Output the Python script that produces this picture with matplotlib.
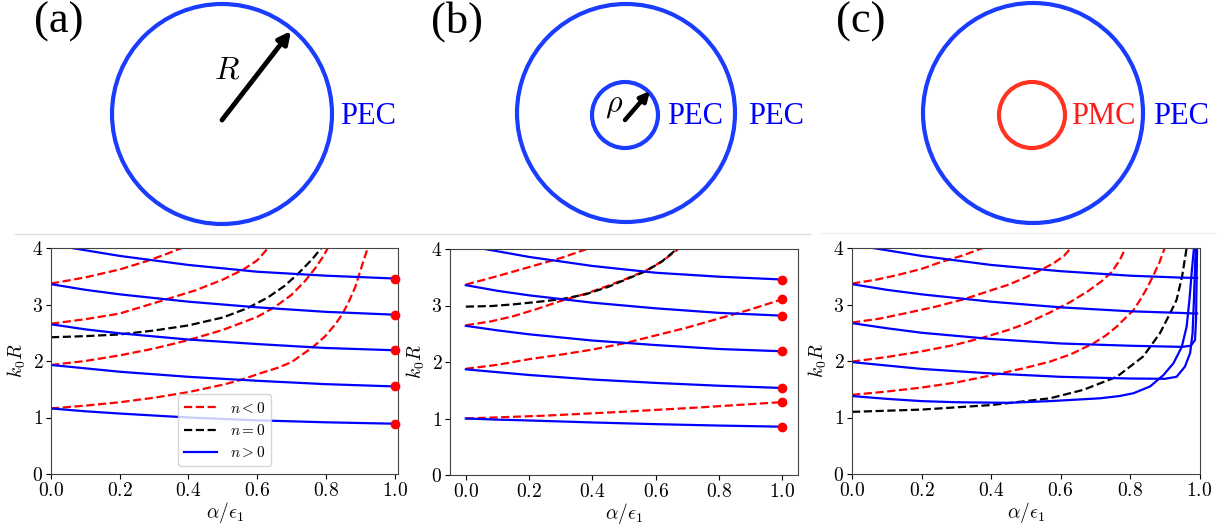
import matplotlib.pyplot as plt
from matplotlib.patches import Circle

plt.rcParams["font.family"] = "serif"
plt.rcParams["font.serif"] = ["cmr10"]
plt.rcParams["mathtext.fontset"] = "cm"
plt.rcParams["axes.formatter.use_mathtext"] = True

# ---- panel (a): single PEC cylinder ----
blue_x = [0, 0.1, 0.2, 0.4, 0.6, 0.8, 1.0]
a_blue_y = [
    [1.16, 1.11, 1.07, 1.00, 0.95, 0.915, 0.89],
    [1.93, 1.87, 1.81, 1.72, 1.65, 1.59, 1.55],
    [2.65, 2.56, 2.49, 2.38, 2.30, 2.23, 2.19],
    [3.36, 3.26, 3.18, 3.05, 2.95, 2.87, 2.82],
    [4.06, 3.96, 3.86, 3.70, 3.58, 3.51, 3.46],
]
a_red_x = [
    [0, 0.1, 0.2, 0.3, 0.4, 0.5, 0.55, 0.608, 0.66, 0.7, 0.763, 0.8, 0.83, 0.85,
     0.869, 0.885, 0.898, 0.91, 0.922],
    [0, 0.1, 0.2, 0.3, 0.4, 0.5, 0.6, 0.65, 0.7, 0.74, 0.77, 0.79, 0.806],
    [0, 0.1, 0.2, 0.33, 0.42, 0.5, 0.56, 0.6, 0.632],
    [0, 0.1, 0.2, 0.28, 0.33, 0.38],
]
a_red_y = [
    [1.16, 1.21, 1.27, 1.35, 1.45, 1.58, 1.66, 1.78, 1.88, 1.98, 2.25, 2.45, 2.67, 2.85,
     3.08, 3.30, 3.55, 3.78, 4.0],
    [1.93, 2.00, 2.10, 2.22, 2.37, 2.55, 2.78, 2.95, 3.17, 3.42, 3.65, 3.83, 4.0],
    [2.66, 2.74, 2.84, 3.08, 3.25, 3.44, 3.62, 3.78, 4.0],
    [3.37, 3.48, 3.62, 3.77, 3.88, 4.0],
]
a_black_x = [0, 0.1, 0.2, 0.3, 0.4, 0.5, 0.57, 0.63, 0.68, 0.72, 0.76, 0.787]
a_black_y = [2.42, 2.44, 2.47, 2.54, 2.63, 2.77, 2.93, 3.12, 3.33, 3.55, 3.80, 4.0]
a_dot_y = [0.89, 1.55, 2.19, 2.82, 3.46]

# ---- panel (b): coaxial PEC / PEC ----
b_blue_y = [
    [1.00, 0.98, 0.965, 0.93, 0.90, 0.875, 0.855],
    [1.87, 1.82, 1.77, 1.69, 1.63, 1.58, 1.54],
    [2.64, 2.56, 2.49, 2.38, 2.30, 2.23, 2.19],
    [3.36, 3.26, 3.18, 3.05, 2.95, 2.87, 2.82],
    [4.06, 3.96, 3.86, 3.70, 3.58, 3.51, 3.46],
]
b_red_x = [
    [0, 0.25, 0.5, 0.75, 1.0],
    [0, 0.1, 0.2, 0.3, 0.4, 0.5, 0.6, 0.7, 0.8, 0.9, 1.0],
    [0, 0.08, 0.15, 0.22, 0.3, 0.38, 0.45, 0.51, 0.57, 0.62, 0.672],
    [0, 0.1, 0.2, 0.3, 0.383],
]
b_red_y = [
    [1.00, 1.05, 1.12, 1.20, 1.29],
    [1.88, 1.95, 2.05, 2.13, 2.22, 2.33, 2.47, 2.61, 2.77, 2.93, 3.11],
    [2.65, 2.72, 2.81, 2.93, 3.08, 3.21, 3.35, 3.48, 3.62, 3.78, 4.0],
    [3.37, 3.52, 3.68, 3.84, 4.0],
]
b_black_x = [0, 0.08, 0.15, 0.22, 0.3, 0.38, 0.45, 0.51, 0.57, 0.62, 0.667]
b_black_y = [2.98, 2.99, 3.02, 3.06, 3.11, 3.20, 3.33, 3.47, 3.61, 3.78, 4.0]
b_dot_y = [0.855, 1.29, 1.54, 2.19, 2.82, 3.11, 3.46]

# ---- panel (c): coaxial PMC / PEC ----
c_blue_x = [
    [0, 0.1, 0.2, 0.3, 0.45, 0.57, 0.714, 0.77, 0.81, 0.858, 0.896, 0.925, 0.949,
     0.963, 0.971, 0.978, 0.984],
    [0, 0.1, 0.2, 0.3, 0.4, 0.6, 0.8, 0.9, 0.934, 0.958, 0.973, 0.98, 0.984, 0.989],
    [0, 0.1, 0.2, 0.4, 0.6, 0.8, 0.95, 0.975, 0.987, 0.99, 0.993],
    [0, 0.1, 0.2, 0.4, 0.6, 0.8, 0.95, 0.993],
    [0, 0.1, 0.2, 0.4, 0.6, 0.8, 0.95, 0.993],
]
c_blue_y = [
    [1.38, 1.33, 1.29, 1.27, 1.26, 1.29, 1.34, 1.38, 1.43, 1.55, 1.75, 1.96, 2.25,
     2.61, 3.08, 3.6, 4.0],
    [1.98, 1.92, 1.86, 1.82, 1.78, 1.72, 1.69, 1.685, 1.72, 1.90, 2.14, 2.49, 3.08, 4.0],
    [2.67, 2.58, 2.50, 2.39, 2.31, 2.27, 2.25, 2.27, 2.37, 2.73, 4.0],
    [3.36, 3.26, 3.18, 3.05, 2.95, 2.88, 2.85, 2.84],
    [4.06, 3.96, 3.86, 3.70, 3.59, 3.51, 3.475, 3.47],
]
c_red_x = [
    [0, 0.1, 0.2, 0.3, 0.42, 0.5, 0.57, 0.63, 0.694, 0.73, 0.762, 0.79, 0.81, 0.829,
     0.85, 0.87, 0.885, 0.9],
    [0, 0.1, 0.2, 0.3, 0.38, 0.45, 0.5, 0.57, 0.63, 0.68, 0.72, 0.748, 0.77, 0.787],
    [0, 0.08, 0.15, 0.24, 0.32, 0.4, 0.45, 0.5, 0.54, 0.58, 0.61, 0.63],
    [0, 0.07, 0.13, 0.2, 0.26, 0.32, 0.376],
]
c_red_y = [
    [1.40, 1.46, 1.53, 1.62, 1.77, 1.88, 1.99, 2.12, 2.31, 2.45, 2.61, 2.78, 2.90, 3.08,
     3.30, 3.55, 3.75, 4.0],
    [1.99, 2.07, 2.17, 2.29, 2.42, 2.55, 2.66, 2.86, 3.05, 3.24, 3.42, 3.58, 3.78, 4.0],
    [2.68, 2.75, 2.84, 2.96, 3.09, 3.25, 3.35, 3.48, 3.60, 3.73, 3.86, 4.0],
    [3.37, 3.44, 3.52, 3.63, 3.76, 3.87, 4.0],
]
c_black_x = [0, 0.2, 0.4, 0.57, 0.666, 0.762, 0.838, 0.886, 0.915, 0.934, 0.95, 0.963]
c_black_y = [1.10, 1.14, 1.22, 1.34, 1.49, 1.72, 2.08, 2.49, 2.84, 3.08, 3.5, 4.0]

BLUE_RING = "#1a3cff"
RED_RING = "#ff3322"


def draw_panel(ax, red_x, red_y, blk_x, blk_y, blue_xs, blue_y, dot_y, xlim):
    hr = hk = hb = None
    for xs, ys in zip(red_x, red_y):
        hr, = ax.plot(xs, ys, "r--", lw=1.6)
    hk, = ax.plot(blk_x, blk_y, "k--", lw=1.6)
    for xs, ys in zip(blue_xs, blue_y):
        hb, = ax.plot(xs, ys, "b-", lw=1.6)
    if dot_y:
        ax.plot([1.0] * len(dot_y), dot_y, "o", color="r", ms=6, clip_on=False, zorder=5)
    ax.set_xlim(*xlim)
    ax.set_ylim(0, 4)
    ax.set_xticks([0, 0.2, 0.4, 0.6, 0.8, 1.0])
    ax.set_yticks([0, 1, 2, 3, 4])
    ax.tick_params(labelsize=14, pad=2)
    ax.set_xlabel(r"$\alpha/\epsilon_1$", fontsize=14, labelpad=0)
    ax.set_ylabel(r"$k_0R$", fontsize=14, labelpad=3)
    for s in ax.spines.values():
        s.set_color("#444444")
    return hr, hk, hb


def main():
    fig = plt.figure(figsize=(12.22, 5.24), dpi=100)

    # sketch layer in pixel coordinates
    ax0 = fig.add_axes([0, 0, 1, 1])
    ax0.set_xlim(0, 1222)
    ax0.set_ylim(524, 0)
    ax0.axis("off")

    ax0.plot([15, 810], [234, 234], color="#dddddd", lw=1)
    ax0.plot([820, 1215], [233, 233], color="#eeeeee", lw=1)

    rings = [((222, 114), 110, BLUE_RING), ((626, 113), 109, BLUE_RING),
             ((625, 115), 33, BLUE_RING), ((1033, 113), 110, BLUE_RING),
             ((1032, 115), 33, RED_RING)]
    for cen, r, col in rings:
        ax0.add_patch(Circle(cen, r, fill=False, ec=col, lw=3))

    ax0.annotate("", xy=(291, 31), xytext=(222, 120),
                 arrowprops=dict(arrowstyle="-|>", color="k", lw=3.5, mutation_scale=18,
                                 shrinkA=0, shrinkB=0))
    ax0.annotate("", xy=(650, 91), xytext=(625, 120),
                 arrowprops=dict(arrowstyle="-|>", color="k", lw=3.2, mutation_scale=14,
                                 shrinkA=0, shrinkB=0))
    ax0.text(227, 71, r"$R$", fontsize=23, ha="center", va="center")
    ax0.text(614, 106, r"$\rho$", fontsize=23, ha="center", va="center")

    serif = "Liberation Serif"
    for x, lab in [(59, "(a)"), (457, "(b)"), (861, "(c)")]:
        ax0.text(x, 22, lab, fontsize=32, family=serif, ha="center", va="center")
    for x, lab, col in [(368, "PEC", "#0000ff"), (695, "PEC", "#0000ff"),
                        (776, "PEC", "#0000ff"), (1103, "PMC", "#ff1a1a"),
                        (1181, "PEC", "#0000ff")]:
        ax0.text(x, 116, lab, fontsize=22, family=serif, color=col,
                 ha="center", va="center")

    # dispersion plots
    axa = fig.add_axes([51 / 1222, 1 - 474 / 524, 347 / 1222, 226 / 524])
    axb = fig.add_axes([450 / 1222, 1 - 475 / 524, 348 / 1222, 226 / 524])
    axc = fig.add_axes([852 / 1222, 1 - 474 / 524, 347.5 / 1222, 226 / 524])

    hr, hk, hb = draw_panel(axa, a_red_x, a_red_y, a_black_x, a_black_y,
                            [blue_x] * 5, a_blue_y, a_dot_y, (0, 1.01))
    draw_panel(axb, b_red_x, b_red_y, b_black_x, b_black_y,
               [blue_x] * 5, b_blue_y, b_dot_y, (-0.05, 1.05))
    draw_panel(axc, c_red_x, c_red_y, c_black_x, c_black_y,
               c_blue_x, c_blue_y, [], (0, 1.0))

    axa.legend([hr, hk, hb], [r"$n<0$", r"$n=0$", r"$n>0$"], loc="lower center",
               fontsize=11, handlelength=2.2)

    fig.savefig("out.png", dpi=100)


if __name__ == "__main__":
    main()
